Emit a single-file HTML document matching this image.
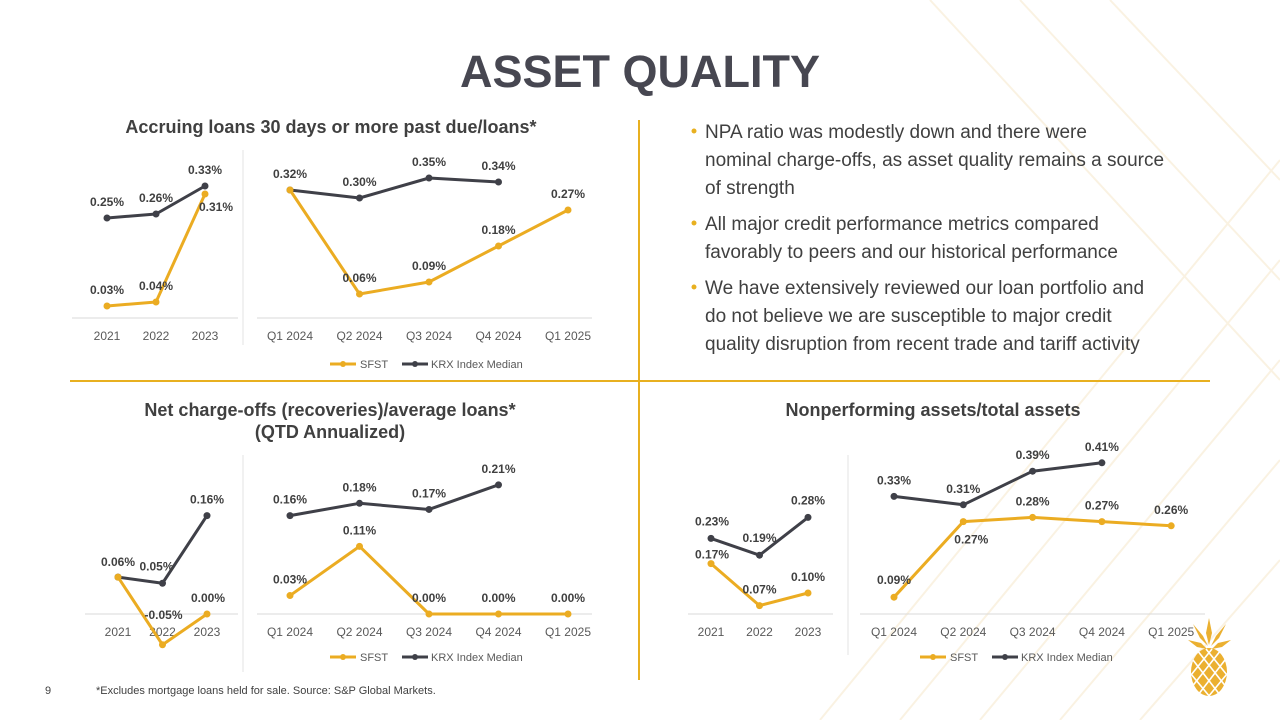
<!DOCTYPE html>
<html><head><meta charset="utf-8">
<style>
html,body{margin:0;padding:0;background:#fff;}
body{width:1280px;height:720px;position:relative;overflow:hidden;font-family:"Liberation Sans",sans-serif;}
svg{position:absolute;left:0;top:0;}
.t{font-family:"Liberation Sans",sans-serif;}
</style></head>
<body>
<svg id="s" width="1280" height="720" viewBox="0 0 1280 720">
  <g id="bg" stroke="#f7ead0" stroke-width="2" opacity="0.6">
    <line x1="820" y1="720" x2="1280" y2="160"/>
    <line x1="900" y1="720" x2="1280" y2="260"/>
    <line x1="980" y1="720" x2="1280" y2="360"/>
    <line x1="1060" y1="720" x2="1280" y2="460"/>
    <line x1="1140" y1="720" x2="1280" y2="560"/>
    <line x1="930" y1="0" x2="1280" y2="380"/>
    <line x1="1020" y1="0" x2="1280" y2="280"/>
    <line x1="1110" y1="0" x2="1280" y2="180"/>
  </g>
  <text class="t" x="640" y="87" text-anchor="middle" font-size="45" font-weight="bold" fill="#474751">ASSET QUALITY</text>
  <line x1="639" y1="120" x2="639" y2="680" stroke="#e8b020" stroke-width="2"/>
  <line x1="70" y1="381" x2="1210" y2="381" stroke="#e8b020" stroke-width="2"/>

  <text class="t" x="331" y="133" text-anchor="middle" font-size="18" font-weight="bold" fill="#404040">Accruing loans 30 days or more past due/loans*</text>
  <text class="t" x="330" y="416" text-anchor="middle" font-size="18" font-weight="bold" fill="#404040">Net charge-offs (recoveries)/average loans*</text>
  <text class="t" x="330" y="438" text-anchor="middle" font-size="18" font-weight="bold" fill="#404040">(QTD Annualized)</text>
  <text class="t" x="933" y="416" text-anchor="middle" font-size="18" font-weight="bold" fill="#404040">Nonperforming assets/total assets</text>

  <g font-size="19" fill="#404040" class="t">
    <circle cx="694" cy="131" r="2.5" fill="#e8b020"/>
    <text x="705" y="138">NPA ratio was modestly down and there were</text>
    <text x="705" y="166">nominal charge-offs, as asset quality remains a source</text>
    <text x="705" y="194">of strength</text>
    <circle cx="694" cy="223" r="2.5" fill="#e8b020"/>
    <text x="705" y="230">All major credit performance metrics compared</text>
    <text x="705" y="258">favorably to peers and our historical performance</text>
    <circle cx="694" cy="287" r="2.5" fill="#e8b020"/>
    <text x="705" y="294">We have extensively reviewed our loan portfolio and</text>
    <text x="705" y="322">do not believe we are susceptible to major credit</text>
    <text x="705" y="350">quality disruption from recent trade and tariff activity</text>
  </g>

  <text class="t" x="45" y="694" font-size="11" fill="#404040">9</text>
  <text class="t" x="96" y="694" font-size="11" fill="#404040">*Excludes mortgage loans held for sale. Source: S&amp;P Global Markets.</text>

  <g fill="#ebb030">
    <path d="M1209 618 L1206 633 L1209 645 L1212 633 Z"/>
    <path d="M1193 624 L1203 636 L1208 646 L1200 638 Z"/>
    <path d="M1226 624 L1216 636 L1211 646 L1219 638 Z"/>
    <path d="M1188 640 L1201 643 L1207 649 L1197 647 Z"/>
    <path d="M1231 640 L1218 643 L1212 649 L1222 647 Z"/>
    <ellipse cx="1209" cy="672" rx="18" ry="24"/>
    <g stroke="#fff" stroke-width="1.6">
      <line x1="1193" y1="660" x2="1220" y2="695"/>
      <line x1="1197" y1="650" x2="1227" y2="688"/>
      <line x1="1191" y1="674" x2="1210" y2="697"/>
      <line x1="1206" y1="649" x2="1227" y2="675"/>
      <line x1="1225" y1="660" x2="1198" y2="695"/>
      <line x1="1221" y1="650" x2="1191" y2="688"/>
      <line x1="1227" y1="674" x2="1208" y2="697"/>
      <line x1="1212" y1="649" x2="1191" y2="675"/>
    </g>
  </g>
  <g id="charts"></g>
</svg>
<script>
// ---- data ----
const yearCats = ["2021","2022","2023"];
const quarterCats = ["Q1 2024","Q2 2024","Q3 2024","Q4 2024","Q1 2025"];

const pastDueSfstYears = [0.03,0.04,0.31];
const pastDueKrxYears = [0.25,0.26,0.33];
const pastDueSfstQtrs = [0.32,0.06,0.09,0.18,0.27];
const pastDueKrxQtrs = [0.32,0.30,0.35,0.34,null];

const ncoSfstYears = [0.06,-0.05,0.00];
const ncoKrxYears = [0.06,0.05,0.16];
const ncoSfstQtrs = [0.03,0.11,0.00,0.00,0.00];
const ncoKrxQtrs = [0.16,0.18,0.17,0.21,null];

const npaSfstYears = [0.17,0.07,0.10];
const npaKrxYears = [0.23,0.19,0.28];
const npaSfstQtrs = [0.09,0.27,0.28,0.27,0.26];
const npaKrxQtrs = [0.33,0.31,0.39,0.41,null];

const GOLD="#ebac22", DARK="#3f4048";
const NS="http://www.w3.org/2000/svg";
const root=document.getElementById('charts');
function el(tag,attrs,parent){const e=document.createElementNS(NS,tag);for(const k in attrs)e.setAttribute(k,attrs[k]);(parent||root).appendChild(e);return e;}

function makeY(base,min,scale){return v=>base-(v-min)*scale;}
function makeX(x0,step){return i=>x0+i*step;}
function fmt(v){return v.toFixed(2)+"%";}

function drawSeries(g,cats,vals,xf,yf,color,name,offs){
  let d="";
  vals.forEach((v,i)=>{if(v===null)return;d+=(d?"L":"M")+xf(i)+" "+yf(v);});
  const p=el('path',{d:d,fill:"none",stroke:color,"stroke-width":3,"stroke-linejoin":"round"},g);
  
  
  vals.forEach((v,i)=>{
    if(v===null)return;
    const c=el('circle',{cx:xf(i),cy:yf(v),r:3.5,fill:color},g);
    
    
    const o=(offs&&offs[i])||[0,-12];
    if(o==='skip')return;
    const t=el('text',{x:xf(i)+o[0],y:yf(v)+o[1],"text-anchor":"middle","font-size":"12","font-weight":"bold",fill:"#404040","class":"t"},g);
    t.textContent=fmt(v);
    
    
  });
}

function drawAxis(g,cats,xf,x1,x2,base,labelY,name){
  const a=el('line',{x1:x1,x2:x2,y1:base,y2:base,stroke:"#d9d9d9","stroke-width":1},g);
  
  
  cats.forEach((c,i)=>{
    const t=el('text',{x:xf(i),y:labelY,"text-anchor":"middle","font-size":"12",fill:"#595959","class":"t"},g);
    t.textContent=c;
    
    
  });
}

function legend(g,x,y,name){
  el('line',{x1:x,x2:x+26,y1:y,y2:y,stroke:GOLD,"stroke-width":3},g);
  el('circle',{cx:x+13,cy:y,r:3,fill:GOLD},g);
  const t1=el('text',{x:x+30,y:y+4,"font-size":"11",fill:"#595959","class":"t"},g);t1.textContent="SFST";
  
  
  el('line',{x1:x+72,x2:x+98,y1:y,y2:y,stroke:DARK,"stroke-width":3},g);
  el('circle',{cx:x+85,cy:y,r:3,fill:DARK},g);
  const t2=el('text',{x:x+101,y:y+4,"font-size":"11",fill:"#595959","class":"t"},g);t2.textContent="KRX Index Median";
  
  
}
function sep(g,x,y1,y2){el('line',{x1:x,x2:x,y1:y1,y2:y2,stroke:"#e3e3e3","stroke-width":1},g);}

// Chart A
const gA=el('g',{});


{
  const yA=makeY(318,0,400);
  const xs=makeX(107,49), xq=makeX(290,69.5);
  sep(gA,243,150,345);
  drawAxis(gA,yearCats,xs,72,238,318,340,'past-due-annual');
  drawAxis(gA,quarterCats,xq,257,592,318,340,'past-due-quarterly');
  drawSeries(gA,yearCats,pastDueKrxYears,xs,yA,DARK,'past-due-krx-annual');
  drawSeries(gA,yearCats,pastDueSfstYears,xs,yA,GOLD,'past-due-sfst-annual',[null,null,[11,17]]);
  drawSeries(gA,quarterCats,pastDueKrxQtrs,xq,yA,DARK,'past-due-krx-quarterly',[[0,-12]]);
  drawSeries(gA,quarterCats,pastDueSfstQtrs,xq,yA,GOLD,'past-due-sfst-quarterly',['skip',[0,-12]]);
  legend(gA,330,364,'past-due');
}
// Chart B
const gB=el('g',{});


{
  const yB=makeY(614,0,615);
  const xs=makeX(118,44.5), xq=makeX(290,69.5);
  sep(gB,243,455,672);
  drawAxis(gB,yearCats,xs,85,238,614,636,'charge-offs-annual');
  drawAxis(gB,quarterCats,xq,257,592,614,636,'charge-offs-quarterly');
  drawSeries(gB,yearCats,ncoKrxYears,xs,yB,DARK,'charge-offs-krx-annual',[[0,-11],[-6,-13],null]);
  drawSeries(gB,yearCats,ncoSfstYears,xs,yB,GOLD,'charge-offs-sfst-annual',['skip',[1,-26],[1,-12]]);
  drawSeries(gB,quarterCats,ncoKrxQtrs,xq,yB,DARK,'charge-offs-krx-quarterly');
  drawSeries(gB,quarterCats,ncoSfstQtrs,xq,yB,GOLD,'charge-offs-sfst-quarterly');
  legend(gB,330,657,'charge-offs');
}
// Chart C
const gC=el('g',{});


{
  const yC=makeY(614,0.05,420);
  const xs=makeX(711,48.5), xq=makeX(894,69.3);
  sep(gC,848,455,655);
  drawAxis(gC,yearCats,xs,688,833,614,636,'npa-annual');
  drawAxis(gC,quarterCats,xq,860,1205,614,636,'npa-quarterly');
  drawSeries(gC,yearCats,npaKrxYears,xs,yC,DARK,'npa-krx-annual',[[1,-13],[0,-13],[0,-13]]);
  drawSeries(gC,yearCats,npaSfstYears,xs,yC,GOLD,'npa-sfst-annual',[[1,-5],[0,-12],[0,-12]]);
  drawSeries(gC,quarterCats,npaKrxQtrs,xq,yC,DARK,'npa-krx-quarterly');
  drawSeries(gC,quarterCats,npaSfstQtrs,xq,yC,GOLD,'npa-sfst-quarterly',[[0,-13],[8,22],null,null,null]);
  legend(gC,920,657,'npa');
}
</script>
</body></html>
